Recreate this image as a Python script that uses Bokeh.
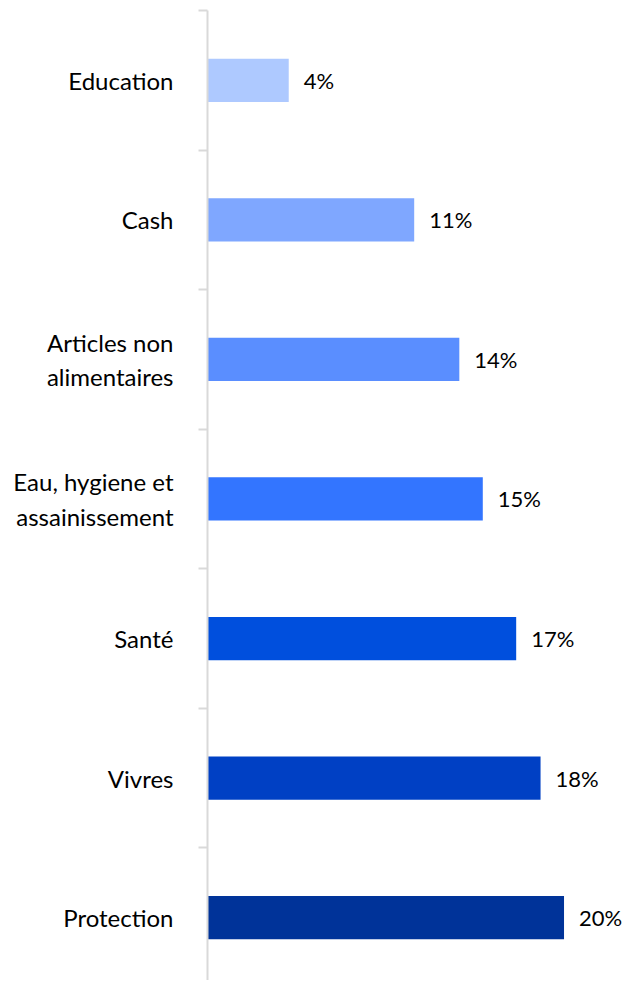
from bokeh.plotting import figure
from bokeh.models import Range1d, FixedTicker, ColumnDataSource
from bokeh.core.properties import value
from bokeh.embed import file_html
from bokeh.resources import INLINE

categories = ["Education", "Cash", "Articles non\nalimentaires", "Eau, hygiene et\nassainissement",
              "Santé", "Vivres", "Protection"]
values = [4.5, 11.45, 13.95, 15.25, 17.1, 18.45, 19.75]
labels = ["4%", "11%", "14%", "15%", "17%", "18%", "20%"]
colors = ["#AEC9FF", "#7FA7FF", "#5A8EFF", "#3375FF", "#004FDD", "#0040C4", "#003399"]

pos = list(range(len(categories)))
src = ColumnDataSource(dict(y=pos, v=values, lab=labels, c=colors))

FONT = "Lato"

p = figure(width=624, height=980, output_backend="svg", toolbar_location=None,
           x_range=Range1d(0, 23.1), y_range=Range1d(6.45, -0.5),
           min_border_left=207, min_border_top=10, min_border_bottom=0, min_border_right=0)
p.hbar(y="y", right="v", left=0, height=0.31, fill_color="c", line_color=None, source=src)
p.text(x="v", y="y", text="lab", x_offset=15, text_baseline="middle", text_align="left",
       text_font=value(FONT), text_font_size="22px", text_color="#000000", source=src)

p.xaxis.visible = False
p.grid.visible = False
p.outline_line_color = None

ax = p.yaxis[0]
ax.ticker = FixedTicker(ticks=pos, minor_ticks=[i - 0.5 for i in range(len(categories) + 1)])
ax.major_label_overrides = {i: c for i, c in enumerate(categories)}
ax.major_tick_out = 0
ax.major_tick_in = 0
ax.minor_tick_out = 9
ax.minor_tick_in = 0
ax.minor_tick_line_color = "#D9D9D9"
ax.minor_tick_line_width = 2
ax.axis_line_color = "#D9D9D9"
ax.axis_line_width = 2
ax.major_label_standoff = 25
ax.major_label_text_font = FONT
ax.major_label_text_font_size = "24px"
ax.major_label_text_color = "#000000"

open("out.html", "w").write(file_html(p, INLINE))
